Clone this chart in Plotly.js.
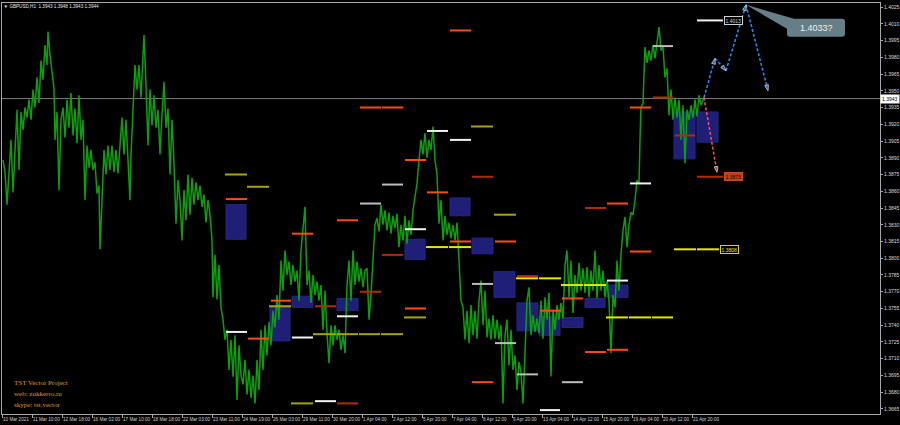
<!DOCTYPE html>
<html><head><meta charset="utf-8">
<script src="https://cdn.plot.ly/plotly-3.0.1.min.js"></script>
<style>html,body{margin:0;padding:0;background:#000;}#chart{width:900px;height:425px;}</style>
</head><body><div id="chart"></div>
<script>
// ---------- data ----------
const symbolName = "GBPUSD,H1";
const lastQuote = [1.3943, 1.3948, 1.3943, 1.3944];

const timeLabels = ["10 Mar 2021","11 Mar 10:00","12 Mar 18:00","16 Mar 02:00","17 Mar 10:00","18 Mar 18:00",
  "22 Mar 03:00","23 Mar 11:00","24 Mar 19:00","26 Mar 03:00","29 Mar 11:00","30 Mar 20:00","1 Apr 04:00",
  "2 Apr 12:00","5 Apr 20:00","7 Apr 04:00","8 Apr 12:00","9 Apr 20:00","13 Apr 04:00","14 Apr 12:00",
  "15 Apr 20:00","19 Apr 04:00","20 Apr 12:00","21 Apr 20:00"];

const priceTicks = [1.3665,1.3680,1.3695,1.3710,1.3725,1.3740,1.3755,1.3770,1.3785,1.3800,1.3815,1.3830,1.3845,
  1.3860,1.3875,1.3890,1.3905,1.3920,1.3935,1.3950,1.3965,1.3980,1.3995,1.4010,1.4025];

// price path (bar position, price)
const priceBar = [1,3,5,7,9,11,13,15,17,19,21,23,25,27,29,31,33,35,37,39,41,43,45,46,48,50,52,53,55,57,59,61,63,65,67,69,
  71,73,75,77,79,81,83,85,87,89,91,93,95,97,98,100,102,104,106,108,110,112,114,116,118,120,122,124,126,128,129,131,133,
  135,137,139,141,142,144,146,148,150,152,154,156,158,160,162,164,166,168,170,172,174,176,178,180,182,184,186,188,190,
  192,194,196,198,200,202,204,206,208,210,211,213,215,217,219,221,223,225,227,229,231,233,235,237,239,241,243,245,247,
  249,251,253,255,257,259,261,263,265,267,269,271,273,275,277,279,281,283,285,287,289,291,293,295,297,299,301,303,305,
  307,309,311,313,315,317,319,321,323,325,327,329,331,333,335,337,339,341,343,345,347,349,351,353,355,357,359,361,363,
  365,367,369,371,373,375,377,379,381,383,385,387,389,391,393,395,397,399,401,403,405,407,409,411,413,415,417,419,421,
  423,425,427,429,431,433,435,437,439,441,443,445,447,449,451,453,455,457,459,461,463,465,467,469,471,473,475,477,479,
  481,483,485,487,489,491,493,495,497,499,501,503,505,507,509,511,513,515,517,519,521,523,525,527,529,531,533,535,537,
  539,541,543,545,547,549,551,553,555,557,559,561,563,565,567,569,571,573,575,577,579,581,583,585,587,589,591,593,595,
  597,599,601,603,605,607,609,611,613,615,617,619,621,623,625,627,629,631,633,635,637,638,639,641,642,643,645,647,649,
  651,653,655,657,659,661,663,665,667,669,671,673,675,677,679,681,683,685,687,689,691,693,695,697,699,701,702];
const priceVal = [1.3888,1.3877,1.3848,1.3875,1.3906,1.3859,1.3897,1.3933,1.3879,1.3931,1.3915,1.3935,1.3926,1.3942,
  1.3924,1.3951,1.3935,1.3962,1.3939,1.3977,1.3960,1.3991,1.3973,1.4003,1.3982,1.3969,1.3952,1.3906,1.3931,1.3861,
  1.3924,1.3935,1.3908,1.3942,1.3917,1.3948,1.3910,1.3934,1.3903,1.3946,1.3906,1.3924,1.3852,1.3901,1.3881,1.3897,
  1.3879,1.3886,1.3858,1.3865,1.3808,1.3852,1.3897,1.3875,1.3901,1.3879,1.3901,1.3877,1.3897,1.3876,1.3899,1.3926,
  1.3893,1.3924,1.3888,1.3852,1.3893,1.3933,1.3973,1.3951,1.3973,1.3944,1.3977,1.4000,1.3955,1.3901,1.3951,1.3919,
  1.3946,1.3917,1.3933,1.3893,1.3928,1.3958,1.3917,1.3934,1.3875,1.3924,1.3884,1.3831,1.3870,1.3852,1.3816,1.3861,
  1.3834,1.3875,1.3839,1.3872,1.3848,1.3868,1.3852,1.3865,1.3846,1.3857,1.3832,1.3852,1.3839,1.3816,1.3765,1.3803,
  1.3763,1.3794,1.3756,1.3745,1.3727,1.3736,1.3700,1.3727,1.3694,1.3731,1.3673,1.3722,1.3695,1.3687,1.3709,1.3678,
  1.3700,1.3675,1.3695,1.3670,1.3709,1.3682,1.3736,1.3700,1.3740,1.3713,1.3743,1.3722,1.3753,1.3738,1.3767,1.3745,
  1.3798,1.3771,1.3807,1.3785,1.3797,1.3776,1.3794,1.3779,1.3789,1.3762,1.3807,1.3825,1.3846,1.3776,1.3789,1.3760,
  1.3785,1.3767,1.3779,1.3762,1.3776,1.3736,1.3771,1.3733,1.3706,1.3740,1.3722,1.3740,1.3727,1.3736,1.3718,1.3731,
  1.3715,1.3776,1.3798,1.3762,1.3807,1.3776,1.3797,1.3779,1.3791,1.3774,1.3789,1.3791,1.3745,1.3767,1.3794,1.3830,
  1.3836,1.3824,1.3848,1.3830,1.3843,1.3825,1.3841,1.3822,1.3838,1.3827,1.3840,1.3810,1.3830,1.3816,1.3838,1.3813,
  1.3834,1.3821,1.3843,1.3857,1.3867,1.3888,1.3906,1.3893,1.3912,1.3890,1.3906,1.3897,1.3918,1.3888,1.3875,1.3831,
  1.3852,1.3816,1.3838,1.3821,1.3832,1.3818,1.3830,1.3816,1.3832,1.3798,1.3762,1.3756,1.3727,1.3753,1.3724,1.3758,
  1.3731,1.3753,1.3728,1.3762,1.3780,1.3740,1.3771,1.3729,1.3746,1.3727,1.3749,1.3728,1.3745,1.3727,1.3740,1.3670,
  1.3731,1.3745,1.3704,1.3736,1.3700,1.3713,1.3682,1.3707,1.3698,1.3670,1.3718,1.3762,1.3774,1.3731,1.3749,1.3734,
  1.3746,1.3733,1.3762,1.3728,1.3765,1.3745,1.3769,1.3694,1.3754,1.3736,1.3758,1.3745,1.3760,1.3746,1.3794,1.3807,
  1.3765,1.3798,1.3751,1.3785,1.3769,1.3796,1.3771,1.3791,1.3769,1.3792,1.3765,1.3789,1.3771,1.3807,1.3764,1.3794,
  1.3771,1.3789,1.3765,1.3780,1.3762,1.3715,1.3767,1.3756,1.3798,1.3771,1.3804,1.3825,1.3837,1.3810,1.3830,1.3841,
  1.3839,1.3852,1.3870,1.3867,1.3906,1.3935,1.3939,1.3977,1.3989,1.3975,1.3986,1.3977,1.3991,1.3979,1.3996,1.4007,
  1.3986,1.3989,1.3962,1.3970,1.3928,1.3951,1.3924,1.3944,1.3926,1.3942,1.3906,1.3937,1.3885,1.3933,1.3924,1.3937,
  1.3926,1.3942,1.3927,1.3946,1.3937,1.3942,1.3944];

// horizontal levels
const lvlFrom  = [695,425,448,403,628,605,335,224,290,313,538, 651,380,358,470,493,515,560,
  448,358,380,628,403,425,224,605,335,290,493,448,628,560,269,403,538,246,605,583,470,
  651,673,470,695,583,380,515,358,313,335, 469,223,245,492,267,402,311,335,357,379,289,
  424,447,672,695,514,537,559,582,604,627,650];
const lvlTo    = [721,446,469,424,649,626,356,245,311,334,558, 671,401,379,491,514,536,581,
  469,379,401,649,424,446,245,626,356,311,514,469,649,581,289,424,559,267,626,604,491,
  671,693,491,721,604,401,536,379,334,356, 491,245,267,514,289,424,334,356,378,401,311,
  446,469,694,717,536,559,581,604,626,649,671];
const lvlPrice = [1.4013,1.3914,1.3906,1.3826,1.3867,1.3780,1.3748,1.3734,1.3729,1.3672,1.3664,
  1.3990,1.3866,1.3849,1.3777,1.3724,1.3696,1.3689,
  1.4004,1.3935,1.3935,1.3935,1.3888,1.3859,1.3853,1.3849,1.3834,1.3822,1.3815,1.3815,1.3806,1.3764,1.3762,
  1.3755,1.3753,1.3728,1.3718,1.3716,1.3689,
  1.3944,1.3910,1.3873,1.3873,1.3845,1.3803,1.3784,1.3770,1.3757,1.3670,
  1.3918,1.3875,1.3864,1.3839,1.3757,1.3747,1.3732,1.3732,1.3732,1.3732,1.3670,
  1.3810,1.3810,1.3808,1.3808,1.3782,1.3782,1.3776,1.3776,1.3747,1.3747,1.3747];
const lvlKind  = ["white","white","white","white","white","white","white","white","white","white","white",
  "silver","silver","silver","silver","silver","silver","silver",
  "orange","orange","orange","orange","orange","orange","orange","orange","orange","orange","orange","orange",
  "orange","orange","orange","orange","orange","orange","orange","orange","orange",
  "darkred","darkred","darkred","darkred","darkred","darkred","darkred","darkred","darkred","darkred",
  "olive","olive","olive","olive","olive","olive","olive","olive","olive","olive","olive",
  "yellow","yellow","yellow","yellow","yellow","yellow","yellow","yellow","yellow","yellow","yellow"];

// price tags at the end of some levels
const tagPrice = [1.4013, 1.3873, 1.3808];
const tagKind  = ["white", "darkred", "yellow"];

// zones (rectangles)
const boxFrom = [224,268,290,335,403,448,470,492,515,537,560,583,605,672,695];
const boxTo   = [244,288,311,356,423,468,491,513,536,558,581,603,626,693,716];
const boxHigh = [1.3848,1.3756,1.3766,1.3764,1.3817,1.3854,1.3818,1.3788,1.3760,1.3748,1.3747,1.3764,1.3776,1.3931,1.3931];
const boxLow  = [1.3817,1.3726,1.3756,1.3753,1.3799,1.3838,1.3804,1.3765,1.3735,1.3731,1.3738,1.3756,1.3765,1.3889,1.3904];

// forecast paths
const upBar   = [702, 713, 724, 744, 766];
const upPrice = [1.3944, 1.3979, 1.3968, 1.4027, 1.3950];
const dnBar   = [702, 715];
const dnPrice = [1.3944, 1.3877];
const targetText = "1.4033?";

const credits = ["TST Vector Project", "web: zukkerro.ru", "skype: tst.vector"];

// ---------- styles ----------
const kindColor = {white:"#f2f2f2", silver:"#bdbdbd", orange:"#ff4a12", darkred:"#b02c06", olive:"#a8a212", yellow:"#e6e600"};
const FONT = "Liberation Sans, Arial, sans-serif";

const traces = [];
traces.push({x: priceBar, y: priceVal, type: "scatter", mode: "lines",
  line: {color: "#0aa00a", width: 1.5}, hoverinfo: "skip"});

Object.keys(kindColor).forEach(k => {
  const xs = [], ys = [];
  lvlKind.forEach((kk, i) => {
    if (kk !== k) return;
    xs.push(lvlFrom[i], lvlTo[i], null);
    ys.push(lvlPrice[i], lvlPrice[i], null);
  });
  traces.push({x: xs, y: ys, type: "scatter", mode: "lines", connectgaps: false,
    line: {color: kindColor[k], width: 2}, hoverinfo: "skip"});
});

traces.push({x: upBar, y: upPrice, type: "scatter", mode: "lines+markers",
  line: {color: "#1e8fff", width: 1.5, dash: "3px,2px"},
  marker: {symbol: "arrow", angleref: "previous", size: upBar.map((_, i) => i === 0 ? 0 : 6), color: "#1e8fff"},
  hoverinfo: "skip"});
traces.push({x: dnBar, y: dnPrice, type: "scatter", mode: "lines+markers",
  line: {color: "#ff5050", width: 1.5, dash: "3px,2px"},
  marker: {symbol: "arrow", angleref: "previous", size: dnBar.map((_, i) => i === 0 ? 0 : 6), color: "#ff5050"},
  hoverinfo: "skip"});

const shapes = [];
boxFrom.forEach((b, i) => {
  shapes.push({type: "rect", xref: "x", yref: "y", x0: b, x1: boxTo[i], y0: boxLow[i], y1: boxHigh[i],
    fillcolor: "#1f1f78", line: {color: "#26268a", width: 1}, layer: "below"});
});
shapes.push({type: "line", xref: "paper", yref: "y", x0: 0, x1: 1, y0: lastQuote[0], y1: lastQuote[0],
  line: {color: "#7d7d7d", width: 1}, layer: "below"});

// callout anchored at forecast peak
let pk = 0;
upPrice.forEach((p, i) => { if (p > upPrice[pk]) pk = i; });
shapes.push({type: "path", xref: "x", yref: "y", xsizemode: "pixel", ysizemode: "pixel",
  xanchor: upBar[pk], yanchor: upPrice[pk],
  path: "M0,0 L48,-14 L96,-14 Q99,-14 99,-17 L99,-29 Q99,-32 96,-32 L44,-32 Q41,-32 41,-29 L41,-24 Z",
  fillcolor: "#667e86", line: {width: 0}, layer: "above"});

const annotations = [];
tagPrice.forEach((p, i) => {
  let j = lvlPrice.findIndex((q, n) => q === p && lvlKind[n] === tagKind[i] && lvlTo[n] > 700);
  const end = j >= 0 ? lvlTo[j] : 720;
  const st = tagKind[i] === "darkred"
    ? {bg: "#b8401a", bd: "#d0481e", fc: "#1a0500"}
    : (tagKind[i] === "yellow" ? {bg: "#000", bd: "#d8d800", fc: "#e8e800"} : {bg: "#000", bd: "#cfcfcf", fc: "#cfcfcf"});
  annotations.push({xref: "x", yref: "y", x: end + 1, y: p, xanchor: "left", yanchor: "middle",
    text: p.toFixed(4), showarrow: false, bgcolor: st.bg, bordercolor: st.bd, borderwidth: 1, borderpad: 0.5,
    font: {family: FONT, size: 5, color: st.fc}});
});
annotations.push({xref: "paper", yref: "y", x: 1, y: lastQuote[0], xanchor: "left", yanchor: "middle",
  text: lastQuote[0].toFixed(4), showarrow: false, bgcolor: "#ffffff", borderpad: 1,
  font: {family: FONT, size: 5, color: "#000"}});
annotations.push({xref: "x", yref: "y", x: upBar[pk], y: upPrice[pk], xshift: 70, yshift: -23,
  text: targetText, showarrow: false, font: {family: FONT, size: 9, color: "#f0f0f0"}});
credits.forEach((t, i) => {
  annotations.push({xref: "paper", yref: "paper", x: 0.0114, y: [0.0754, 0.0487, 0.0219][i],
    xanchor: "left", yanchor: "middle", text: t, showarrow: false,
    font: {family: "Liberation Serif, Times New Roman, serif", size: 7, color: "#e0921e"}});
});

const layout = {
  width: 900, height: 425,
  paper_bgcolor: "#000", plot_bgcolor: "#000",
  margin: {l: 2, r: 20, t: 3, b: 11},
  showlegend: false,
  title: {text: "▼ " + symbolName + "  " + lastQuote.map(v => v.toFixed(4)).join(" "),
    x: 0.004, xanchor: "left", y: 0.986, yanchor: "middle",
    font: {family: FONT, size: 4.6, color: "#e6e6e6"}},
  xaxis: {range: [0, 878], tickvals: timeLabels.map((_, i) => i * 30), ticktext: timeLabels,
    tickangle: 0, ticks: "outside", ticklen: 3, tickcolor: "#a8a8a8", tickwidth: 1,
    ticklabelposition: "outside right", tickfont: {family: FONT, size: 4.6, color: "#cfcfcf"},
    showgrid: false, zeroline: false, showline: true, linecolor: "#a8a8a8", linewidth: 1, mirror: true},
  yaxis: {range: [1.36605, 1.40286], side: "right", tickvals: priceTicks, ticktext: priceTicks.map(v => v.toFixed(4)),
    ticks: "outside", ticklen: 2, tickcolor: "#a8a8a8", tickwidth: 1,
    tickfont: {family: FONT, size: 5, color: "#d8d8d8"},
    showgrid: false, zeroline: false, showline: true, linecolor: "#a8a8a8", linewidth: 1, mirror: true},
  shapes: shapes,
  annotations: annotations
};

Plotly.newPlot("chart", traces, layout, {staticPlot: true, displayModeBar: false});
</script>
</body></html>
